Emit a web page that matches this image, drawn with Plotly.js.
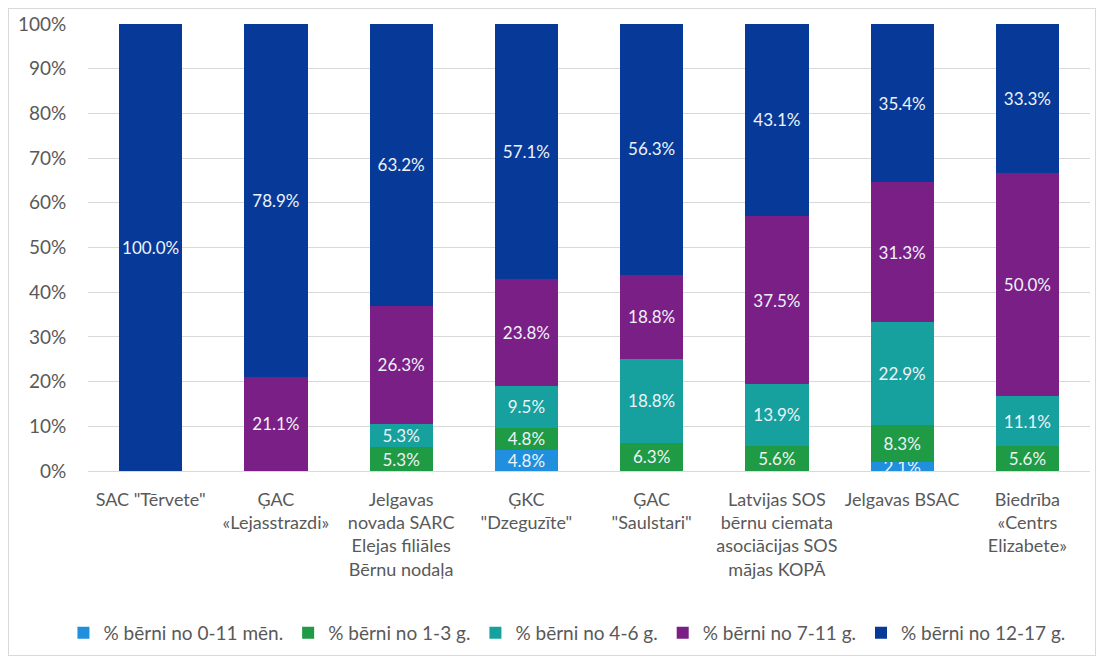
<!DOCTYPE html>
<html>
<head>
<meta charset="utf-8">
<script src="https://cdn.plot.ly/plotly-3.0.1.min.js"></script>
<style>
html,body{margin:0;padding:0;background:#fff;}
#frame{position:absolute;left:8px;top:8px;width:1088px;height:648px;border:1px solid #d9d9d9;box-sizing:border-box;}
#chart{position:absolute;left:0;top:0;width:1102px;height:663px;}
</style>
</head>
<body>
<div id="frame"></div>
<div id="chart"></div>
<script>
const categories = [
  'SAC "Tērvete"',
  'ĢAC<br>«Lejasstrazdi»',
  'Jelgavas<br>novada SARC<br>Elejas filiāles<br>Bērnu nodaļa',
  'ĢKC<br>"Dzeguzīte"',
  'ĢAC<br>"Saulstari"',
  'Latvijas SOS<br>bērnu ciemata<br>asociācijas SOS<br>mājas KOPĀ',
  'Jelgavas BSAC',
  'Biedrība<br>«Centrs<br>Elizabete»'
];
const seriesNames = ['% bērni no 0-11 mēn.', '% bērni no 1-3 g.', '% bērni no 4-6 g.', '% bērni no 7-11 g.', '% bērni no 12-17 g.'];
const age0_11m = [null, null, null, 4.8, null, null, 2.1, null];
const age1_3   = [null, null, 5.3, 4.8, 6.3, 5.6, 8.3, 5.6];
const age4_6   = [null, null, 5.3, 9.5, 18.8, 13.9, 22.9, 11.1];
const age7_11  = [null, 21.1, 26.3, 23.8, 18.8, 37.5, 31.3, 50.0];
const age12_17 = [100.0, 78.9, 63.2, 57.1, 56.3, 43.1, 35.4, 33.3];
const colors = ['#1f8fde', '#1f9a45', '#16a09e', '#7a1f86', '#073a98'];

const values = [age0_11m, age1_3, age4_6, age7_11, age12_17];
const FONT = 'Lato, "Open Sans", sans-serif';
const traces = values.map((v, i) => ({
  type: 'bar',
  name: seriesNames[i],
  x: categories,
  y: v,
  marker: {color: colors[i]},
  text: v.map(d => d == null ? '' : d.toFixed(1) + '%'),
  textposition: 'inside',
  insidetextanchor: 'middle',
  textangle: 0,
  constraintext: 'none',
  textfont: {color: '#eef3f8', size: 17, family: FONT},
  hoverinfo: 'name+y'
}));

const layout = {
  width: 1102, height: 663,
  barmode: 'stack',
  bargap: 0.495,
  margin: {l: 88, r: 12, t: 24, b: 191},
  paper_bgcolor: 'rgba(0,0,0,0)',
  plot_bgcolor: 'rgba(0,0,0,0)',
  font: {family: FONT, color: '#595959', size: 18},
  uniformtext: {mode: 'show', minsize: 16},
  showlegend: true,
  legend: {orientation: 'h', x: 0.478, xanchor: 'center', y: -0.359, yanchor: 'middle',
           font: {size: 19, color: '#595959', family: FONT}, itemwidth: 30, traceorder: 'normal'},
  xaxis: {tickfont: {size: 18, color: '#595959', family: FONT}, showgrid: false, zeroline: false, showline: false,
          ticks: 'outside', ticklen: 12, tickcolor: 'rgba(0,0,0,0)'},
  yaxis: {range: [0, 100], dtick: 10, ticksuffix: '%', gridcolor: '#d9d9d9', zeroline: true, zerolinecolor: '#d9d9d9',
          tickfont: {size: 19, color: '#595959', family: FONT}, ticks: 'outside', ticklen: 17, tickcolor: 'rgba(0,0,0,0)',
          fixedrange: true}
};

Plotly.newPlot('chart', traces, layout, {displayModeBar: false, staticPlot: true});
</script>
</body>
</html>
